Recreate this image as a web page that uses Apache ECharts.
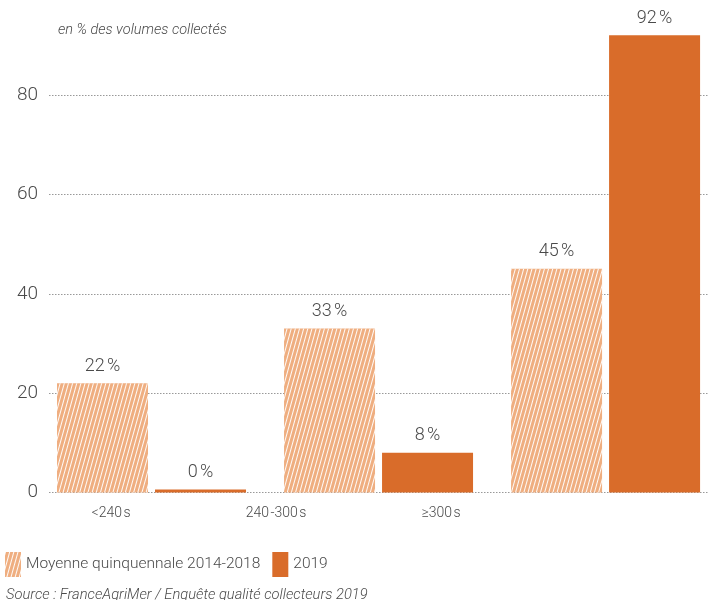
<!DOCTYPE html>
<html>
<head>
<meta charset="utf-8">
<script src="https://cdn.jsdelivr.net/npm/echarts@6/dist/echarts.min.js"></script>
<style>html,body{margin:0;padding:0;background:#fff}#c{width:715px;height:600px}</style>
</head>
<body>
<div id="c"></div>
<script>
const categories = ['<240\u200As', '240\u200A-300\u200As', '\u2265300\u200As'];
const seriesNames = ['Moyenne quinquennale 2014-2018', '2019'];
const avgValues = [22, 33, 45];
const y2019Values = [0, 8, 92];
const yTicks = [0, 20, 40, 60, 80];
const unitLabel = 'en % des volumes collectés';
const sourceText = 'Source : FranceAgriMer / Enquête qualité collecteurs 2019';

const FONT = 'Roboto';
const TXT = '#4a4a4a';
const LIGHT = '#EFAE80';
const DARK = '#D96C2A';

const chart = echarts.init(document.getElementById('c'), null, {renderer: 'canvas'});
const pct = p => p.value[1] + '\u202F%';
const toPoints = arr => arr.map((v, i) => [i, v]);
chart.setOption({
  animation: false,
  textStyle: {fontFamily: FONT},
  title: [
    {text: unitLabel, left: 53, top: 18, textStyle: {fontFamily: FONT, fontStyle: 'italic', fontWeight: 300, fontSize: 14.5, color: TXT}},
    {text: sourceText, left: 1, top: 583, textStyle: {fontFamily: FONT, fontStyle: 'italic', fontWeight: 300, fontSize: 14.7, color: TXT}}
  ],
  legend: {
    left: 0, top: 547, itemWidth: 16, itemHeight: 25, itemGap: 12, icon: 'rect',
    textStyle: {fontFamily: FONT, fontWeight: 300, fontSize: 15.5, color: TXT, padding: [0,0,0,0]},
    data: seriesNames
  },
  grid: [
    {left: 38, right: 0, top: 0, bottom: 107.5},
    {left: 28.5, width: 495, top: 0, bottom: 107.5},
    {left: 49, right: 7, top: 95, bottom: 107.5}
  ],
  xAxis: [
    {gridIndex: 0, type: 'value', min: -0.5, max: 2.482, show: false, splitLine: {show: false}},
    {gridIndex: 1, type: 'category', data: categories, axisLine: {show: false}, axisTick: {show: false},
      axisLabel: {fontFamily: FONT, fontWeight: 300, fontSize: 14, color: TXT, margin: 14}},
    {gridIndex: 2, type: 'category', data: categories, show: false}
  ],
  yAxis: [
    {gridIndex: 0, type: 'value', min: 0, max: 99.1, show: false, splitLine: {show: false}},
    {gridIndex: 1, type: 'value', min: 0, max: 99.1, show: false, splitLine: {show: false}},
    {gridIndex: 2, type: 'value', min: 0, max: 80, interval: 20,
      axisLine: {show: false}, axisTick: {show: false},
      axisLabel: {fontFamily: FONT, fontWeight: 300, fontSize: 19, color: TXT, margin: 11,
        formatter: v => yTicks.includes(v) ? String(v) : ''},
      splitLine: {show: true, lineStyle: {type: [1.5, 1.5], color: '#999', width: 1}}}
  ],
  series: [
    {name: seriesNames[0], type: 'bar', xAxisIndex: 0, yAxisIndex: 0, data: toPoints(avgValues),
      barWidth: 91, barGap: '7.7%',
      itemStyle: {color: LIGHT,
        decal: {symbol: 'rect', symbolSize: 1, color: 'rgba(255,255,255,0.95)', dashArrayX: [1, 0], dashArrayY: [1, 3], rotation: -1.3}},
      label: {show: true, position: 'top', distance: 8, formatter: pct, fontFamily: FONT, fontWeight: 300, fontSize: 18, color: TXT}},
    {name: seriesNames[1], type: 'bar', xAxisIndex: 0, yAxisIndex: 0, data: toPoints(y2019Values),
      barWidth: 91, barMinHeight: 3,
      itemStyle: {color: DARK},
      label: {show: true, position: 'top', distance: 8, formatter: pct, fontFamily: FONT, fontWeight: 300, fontSize: 18, color: TXT}}
  ]
});
</script>
</body>
</html>
